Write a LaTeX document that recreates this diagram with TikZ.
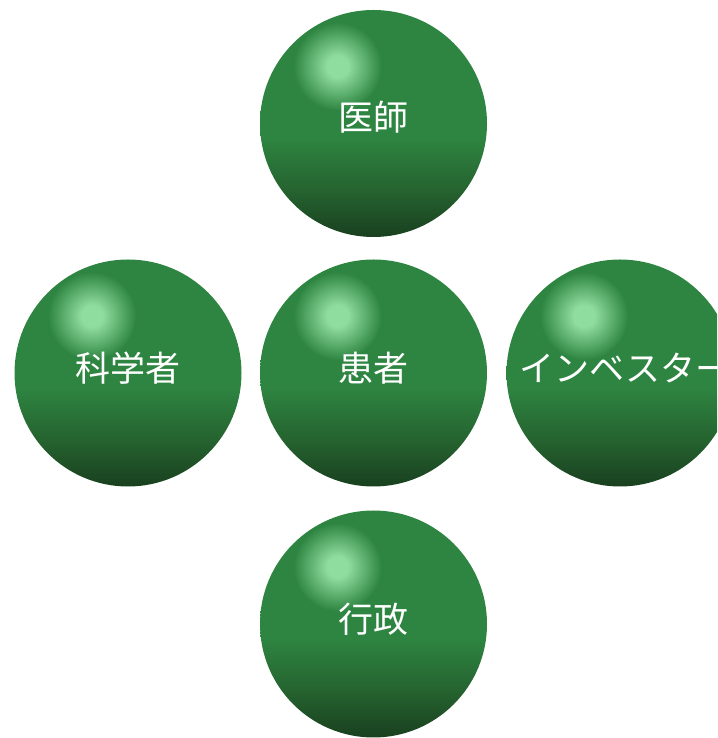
\documentclass[tikz,border=0pt]{standalone}
\usepackage{fontspec}
\newfontfamily\jp{Noto Sans CJK JP}
\definecolor{sphbase}{HTML}{2E8541}
\definecolor{sphmid}{HTML}{25622F}
\definecolor{sphdark}{HTML}{19401F}
\definecolor{sphhl}{HTML}{90DDA0}
\pgfdeclareverticalshading{ballshade}{100bp}{color(0bp)=(sphdark); color(25bp)=(sphdark); color(35bp)=(sphmid); color(47bp)=(sphbase); color(100bp)=(sphbase)}
\pgfdeclareradialshading{glowshade}{\pgfpoint{0bp}{0bp}}{color(0bp)=(sphhl); color(6bp)=(sphhl); color(25bp)=(sphbase); color(50bp)=(sphbase)}
\tikzset{
  ball/.style={circle, minimum size=227pt, inner sep=0pt, shading=ballshade},
  glow/.style={shading=glowshade},
  label/.style={text=white, font=\jp\fontsize{35}{40}\selectfont}
}
\begin{document}
\begin{tikzpicture}[x=1pt,y=1pt]
\useasboundingbox (0,0) rectangle (717,738);
\clip (0,0) rectangle (717,738);
\node[ball] (doctor) at (373.5,614.5) {};
\node[ball] (scientist) at (128,365) {};
\node[ball] (patient) at (373.5,365) {};
\node[ball] (investor) at (620,365) {};
\node[ball] (admin) at (373.5,114) {};
\foreach \n in {doctor,scientist,patient,investor,admin}{
  \shade[glow] ([xshift=-36pt,yshift=57pt]\n.center) circle (44pt);
}
\node[label] (tdoctor) at ([yshift=6pt]doctor.center) {医師};
\node[label] (tscientist) at ([yshift=5pt]scientist.center) {科学者};
\node[label] (tpatient) at ([yshift=5pt]patient.center) {患者};
\node[label, inner sep=0pt] (tinvestor) at ([yshift=5pt,xshift=5pt]investor.center) {インベスター};
\node[label] (tadmin) at ([yshift=5pt]admin.center) {行政};
\end{tikzpicture}
\end{document}
